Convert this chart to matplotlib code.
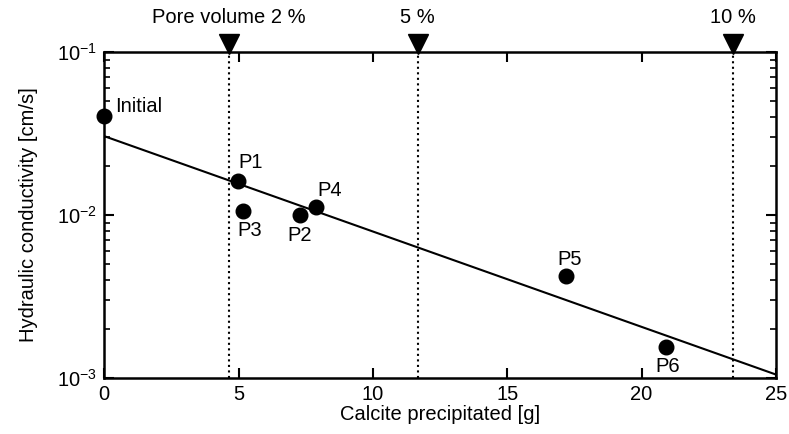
import matplotlib.pyplot as plt
import matplotlib.transforms as mtransforms
import numpy as np

plt.rcParams['font.family'] = ['Liberation Sans', 'DejaVu Sans']

# data
labels = ['Initial', 'P1', 'P3', 'P2', 'P4', 'P5', 'P6']
calcite = [0.0, 4.98, 5.17, 7.29, 7.88, 17.2, 20.9]
conductivity = [0.0405, 0.0162, 0.0106, 0.0100, 0.0112, 0.00423, 0.00155]

fit_x = [0, 25]
fit_y = [0.0305, 0.00105]

pore_x = [4.65, 11.67, 23.4]
pore_labels = ['Pore volume 2 %', '5 %', '10 %']

# label offsets in points
offsets = {'Initial': (8, 7), 'P1': (9, 13), 'P3': (5, -14), 'P2': (0, -15),
           'P4': (10, 12), 'P5': (2, 12), 'P6': (1, -14)}
aligns = {'Initial': 'left'}
fs = 14.5

fig = plt.figure(figsize=(7.89, 4.34), dpi=100)
ax = fig.add_axes([0.132, 0.129, 0.8515, 0.751])

ax.plot(fit_x, fit_y, color='black', lw=1.5)
ax.plot(calcite, conductivity, 'o', color='black', ms=10.5, clip_on=False, zorder=5)

for lab, x, y in zip(labels, calcite, conductivity):
    ax.annotate(lab, (x, y), xytext=offsets[lab], textcoords='offset points',
                ha=aligns.get(lab, 'center'), va='center', fontsize=fs)

xtrans = ax.get_xaxis_transform()
tri_trans = mtransforms.offset_copy(xtrans, fig=fig, x=0, y=6, units='points')
for x, lab in zip(pore_x, pore_labels):
    ax.axvline(x, color='black', ls=':', lw=1.5)
    ax.plot(x, 1.0, 'v', color='black', ms=14, transform=tri_trans, clip_on=False)
    ax.annotate(lab, (x, 1.0), xycoords=xtrans, xytext=(0, 25),
                textcoords='offset points', ha='center', va='center', fontsize=fs)

ax.set_yscale('log')
ax.set_xlim(0, 25)
ax.set_ylim(1e-3, 1e-1)
ax.set_xticks([0, 5, 10, 15, 20, 25])
ax.set_xlabel('Calcite precipitated [g]', fontsize=fs, labelpad=1)
ax.set_ylabel('Hydraulic conductivity [cm/s]', fontsize=fs, labelpad=14)
ax.tick_params(which='both', direction='in', top=True, right=True, labelsize=fs)
ax.tick_params(which='major', length=7, width=1.5, pad=5)
ax.tick_params(which='minor', length=4, width=1.2)
for s in ax.spines.values():
    s.set_linewidth(1.8)

fig.savefig('out.png', dpi=100)
